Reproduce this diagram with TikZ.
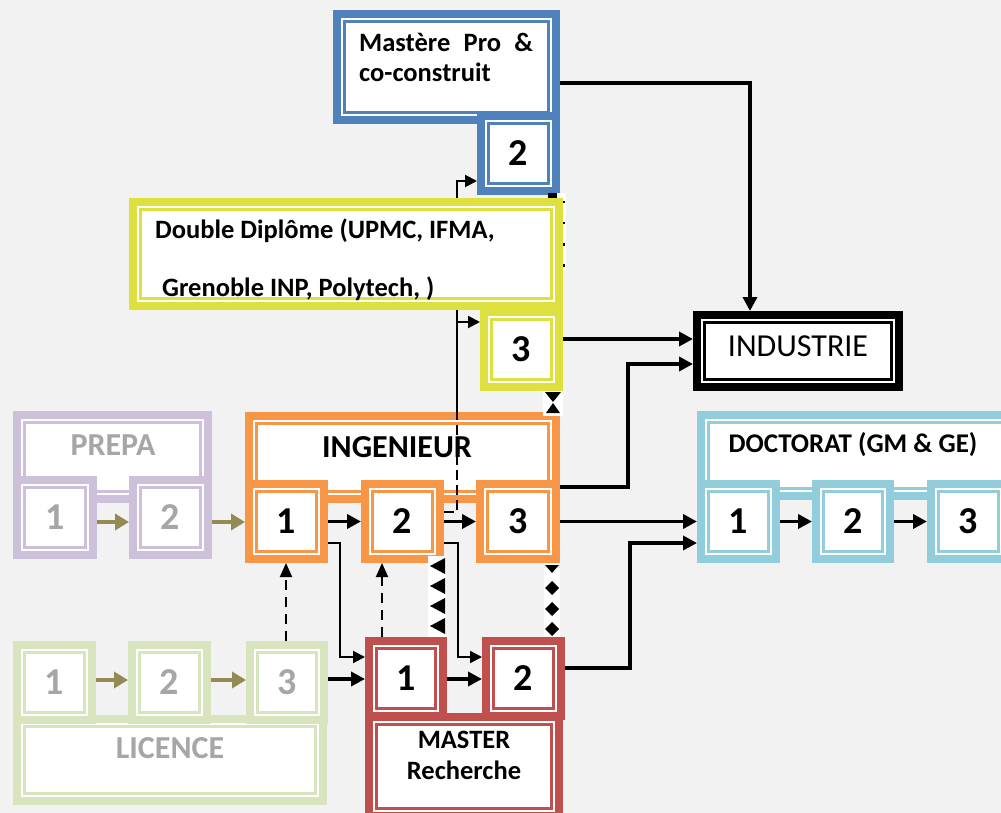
\documentclass[tikz,border=0pt]{standalone}
\usepackage{fontspec}
\setmainfont{Carlito}
\usetikzlibrary{arrows.meta}
\definecolor{bg}{HTML}{F2F2F2}
\definecolor{cblue}{HTML}{4F81BD}
\definecolor{cyel}{RGB}{221,224,62}
\definecolor{corange}{HTML}{F79646}
\definecolor{clav}{HTML}{CCC0DA}
\definecolor{cgreen}{HTML}{D7E4BD}
\definecolor{cred}{HTML}{C0504D}
\definecolor{ccyan}{HTML}{92CDDC}
\definecolor{cgrey}{HTML}{A6A6A6}
\definecolor{colive}{HTML}{948A54}
\tikzset{
  dbox/.style={draw=#1, line width=8pt, fill=white, inner sep=0pt,
    font=\bfseries\fontsize{38}{44}\selectfont},
  lbl/.style={inner sep=0pt, font=\bfseries\fontsize{32}{38}\selectfont},
  lbls/.style={inner sep=0pt, font=\bfseries\fontsize{26.5}{31}\selectfont},
  tk/.style={line width=3.5pt, -{Triangle[length=14pt,width=14pt]}},
  tn/.style={line width=2pt, -{Triangle[length=12pt,width=12pt]}},
  ol/.style={draw=colive, line width=4pt, -{Triangle[length=14pt,width=16pt]}},
  dsh/.style={line width=2pt, dash pattern=on 10pt off 7pt, -{Triangle[length=14pt,width=12pt]}},
}
\newcommand\mybox[7]{%
  \node[dbox=#6, minimum width={#4-#2-8}, minimum height={#5-#3-8}] (#1) at ({(#2+#4)/2},{(#3+#5)/2}) {#7};
  \draw[#6, line width=2.5pt] ([shift={(11.5,11.5)}]#1.north west) rectangle ([shift={(-11.5,-11.5)}]#1.south east);
}
\begin{document}
\begin{tikzpicture}[x=1pt,y=-1pt]
\useasboundingbox (0,0) rectangle (1001,813);
\fill[bg] (0,0) rectangle (1001,813);
\begin{scope}
\clip (0,0) rectangle (1001,813);
% Mastere Pro
\mybox{mp}{333}{10}{560}{124}{cblue}{}
\mybox{mp2}{477}{112}{560}{195}{cblue}{2}
\node[lbls, anchor=base west] (tmp1) at (359,52) {\makebox[174pt][s]{Mastère Pro \&}};
\node[lbls, anchor=base west] (tmp2) at (359,82) {co-construit};
% strip a (behind DD)
\fill[white] (548,193) rectangle (566,270);
\fill[black] (548,193) rectangle (557,198);
\foreach \c in {201,222,243,264} \fill[black] (562.5,\c) rectangle +(2.5,2.5);
% line from ING2 up (solid part, behind DD)
\coordinate (j1) at (457,412);
\coordinate (j2) at (457,322);
\draw[tn] (j1) -- (j2) -- (j2 -| 480,0);
\draw[tn] (j2) -- (457,181) -- (477,181);
% Double diplome
\mybox{dd}{129}{198}{563}{310}{cyel}{}
\mybox{dd3}{480}{308}{563}{391}{cyel}{3}
\node[lbls, anchor=base west] (tdd1) at (155,238) {Double Diplôme (UPMC, IFMA,};
\node[lbls, anchor=base west] (tdd2) at (162,296) {Grenoble INP, Polytech, )};
% Industrie
\mybox{ind}{693}{311}{903}{391}{black}{}
\node[inner sep=0pt, font=\fontsize{32}{38}\selectfont, anchor=base] (tind) at (798,356) {INDUSTRIE};
% Prepa
\mybox{pr}{13}{411}{212}{503}{clav}{}
\node[lbl, text=cgrey, anchor=base] (tpr) at (113,455) {PREPA};
\mybox{p1}{13}{476}{97}{559}{clav}{\textcolor{cgrey}{1}}
\mybox{p2}{129}{476}{212}{559}{clav}{\textcolor{cgrey}{2}}
% Ingenieur
\mybox{ing}{245}{412}{560}{503}{corange}{}
\node[lbl, anchor=base] (ting) at (397,457) {INGENIEUR};
\mybox{i1}{245}{480}{328}{563}{corange}{1}
\mybox{i2}{361}{480}{444}{563}{corange}{2}
\mybox{i3}{476}{480}{560}{563}{corange}{3}
% Doctorat
\mybox{doc}{697}{411}{1030}{500}{ccyan}{}
\node[inner sep=0pt, font=\bfseries\fontsize{27}{32}\selectfont, anchor=base] (tdoc) at (853,452) {DOCTORAT (GM \& GE)};
\mybox{d1}{697}{480}{780}{563}{ccyan}{1}
\mybox{d2}{812}{480}{894}{563}{ccyan}{2}
\mybox{d3}{927}{480}{1010}{563}{ccyan}{3}
% Licence
\mybox{lic}{13}{715}{327}{805}{cgreen}{}
\node[lbl, text=cgrey, anchor=base] (tlic) at (170,758) {LICENCE};
\mybox{l1}{13}{641}{96}{724}{cgreen}{\textcolor{cgrey}{1}}
\mybox{l2}{128}{641}{211}{724}{cgreen}{\textcolor{cgrey}{2}}
\mybox{l3}{246}{641}{328}{724}{cgreen}{\textcolor{cgrey}{3}}
% Master recherche
\mybox{mr}{365}{713}{563}{820}{cred}{}
\node[lbls, anchor=base] (tmr1) at (464,748) {MASTER};
\node[lbls, anchor=base] (tmr2) at (464,779) {Recherche};
\mybox{m1}{365}{637}{447}{720}{cred}{1}
\mybox{m2}{482}{637}{565}{720}{cred}{2}
% dashed part inside ING
\draw[line width=2pt, dash pattern=on 10pt off 5pt] (i2.east |- 0,512) -- (457,512) -- (j1);
% connectors
\draw[tk] (mp.east |- 0,83) -| (750,0 |- ind.north);
\draw[tk] (dd3.east |- 0,339) -- (ind.west |- 0,339);
\draw[tk] (ing.east |- 0,487) -| (628,364) -- (ind.west |- 0,364);
\draw[tk] (i3.east) -- (d1.west);
\draw[tk] (m2.east |- 0,668) -| (630,543) -- (d1.west |- 0,543);
\draw[tk] (d1.east) -- (d2.west);
\draw[tk] (d2.east) -- (d3.west);
\draw[tk] (i1.east) -- (i2.west);
\draw[tk] (i2.east) -- (i3.west);
\draw[tn] (i1.east |- 0,543) -| (340,657) -- (m1.west |- 0,657);
\draw[tn] (i2.east |- 0,543) -| (458,657) -- (m2.west |- 0,657);
\draw[tk] (l3.east |- 0,679) -- (m1.west |- 0,679);
\draw[tk] (m1.east |- 0,679) -- (m2.west |- 0,679);
\draw[ol] (p1.east |- 0,522) -- (p2.west |- 0,522);
\draw[ol] (p2.east |- 0,522) -- (i1.west |- 0,522);
\draw[ol] (l1.east |- 0,680) -- (l2.west |- 0,680);
\draw[ol] (l2.east |- 0,680) -- (l3.west |- 0,680);
\draw[dsh] (286,0 |- l3.north) -- (286,0 |- i1.south);
\draw[dsh] (382,0 |- m1.north) -- (382,0 |- i2.south);
% strip b
\fill[white] (543,391) rectangle (563,416);
\fill[black] (545,392) -- (561,392) -- (553,402) -- cycle;
\fill[black] (553,403) -- (560,413) -- (546,413) -- cycle;
% strip c
\fill[white] (428,556) rectangle (446,637);
\foreach \c in {566,586,606,626} \fill[black] (445,\c-8) -- (430,\c) -- (445,\c+8) -- cycle;
% strip d
\fill[white] (544,563) rectangle (560,637);
\fill[black] (545,565) -- (559,565) -- (552,573) -- cycle;
\foreach \c in {588,609,629} \fill[black] (552,\c-7) -- (559,\c) -- (552,\c+7) -- (545,\c) -- cycle;
\end{scope}
\end{tikzpicture}
\end{document}
